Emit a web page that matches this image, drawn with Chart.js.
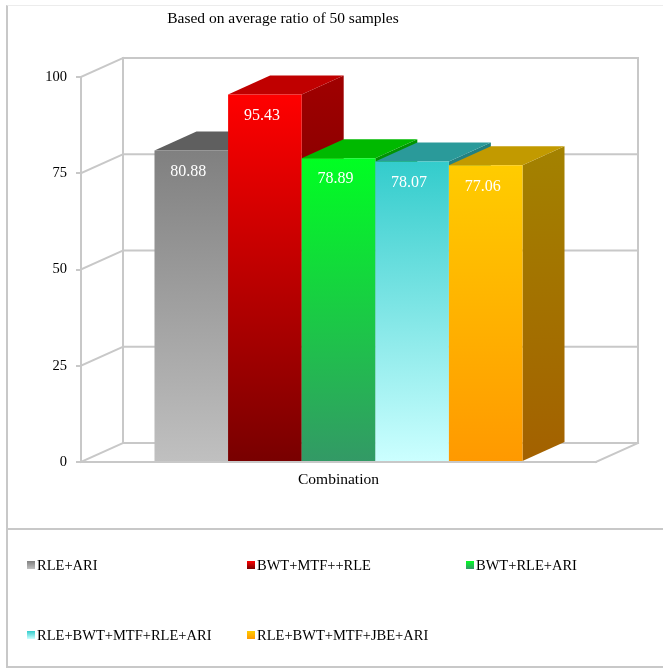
<!DOCTYPE html>
<html>
<head>
<meta charset="utf-8">
<script src="https://cdn.jsdelivr.net/npm/chart.js@4/dist/chart.umd.min.js"></script>
<style>
  html, body { margin: 0; padding: 0; background: #fff; }
  body { width: 663px; height: 671px; position: relative; overflow: hidden; font-family: "Liberation Serif", "Times New Roman", serif; }
  #chart { position: absolute; left: 0; top: 0; }
  #frame { position: absolute; left: 6px; top: 5px; width: 663px; height: 663px;
           border-left: 2px solid #c8c8c8; border-top: 1px solid #ececec; border-bottom: 2px solid #c8c8c8; box-sizing: border-box; pointer-events: none; }
  #divider { position: absolute; left: 8px; top: 528px; width: 655px; height: 2px; background: #c8c8c8; }
  #legend { position: absolute; left: 27px; top: 530px; width: 636px; height: 138px;
            display: grid; grid-template-columns: 220px 219px 180px; grid-auto-rows: 70px; padding-top: 27px; box-sizing: border-box; }
  .item { display: flex; align-items: center; height: 16px; font-size: 14.5px; color: #000; white-space: nowrap; }
  .swatch { width: 8px; height: 8px; margin-right: 2px; flex: none; }
</style>
</head>
<body>
<canvas id="chart" width="663" height="671"></canvas>
<div id="frame"></div>
<div id="divider"></div>
<div id="legend"></div>
<script>
// Chart data
const chartTitle = 'Based on average ratio of 50 samples';
const categories = ['Combination'];
const seriesNames = ['RLE+ARI', 'BWT+MTF++RLE', 'BWT+RLE+ARI', 'RLE+BWT+MTF+RLE+ARI', 'RLE+BWT+MTF+JBE+ARI'];
const seriesValues = [80.88, 95.43, 78.89, 78.07, 77.06];
const yTicks = [0, 25, 50, 75, 100];

// Face colours of each 3D column: front gradient (top, bottom), top face, side gradient (top, bottom)
const frontTop    = ['#808080', '#ff0000', '#00ff22', '#33cccc', '#ffcc00'];
const frontBottom = ['#c0c0c0', '#780000', '#339966', '#ccffff', '#ff9900'];
const topFace     = ['#5f5f5f', '#c00000', '#00b900', '#2a9a9a', '#c29a00'];
const sideTop     = ['#555555', '#a00000', '#009400', '#1f7f7f', '#a38200'];
const sideBottom  = ['#808080', '#500000', '#1d6b45', '#7fb3b3', '#a36100'];

const DEPTH_X = 42, DEPTH_Y = -19;
const GRID_COLOR = '#c8c8c8';
const FONT = '"Liberation Serif", "Times New Roman", serif';

function frontFill(i) {
  return (ctx) => {
    const chart = ctx.chart;
    if (!chart.chartArea || ctx.raw === undefined) return frontTop[i];
    const ys = chart.scales.y;
    const top = ys.getPixelForValue(ctx.raw);
    const bottom = ys.getPixelForValue(0);
    const g = chart.ctx.createLinearGradient(0, top, 0, bottom);
    g.addColorStop(0, frontTop[i]);
    g.addColorStop(1, frontBottom[i]);
    return g;
  };
}

// Draws the back wall, side wall and floor, then each column with its top and side faces
const columns3d = {
  id: 'columns3d',
  beforeDraw(chart) {
    const ctx = chart.ctx;
    ctx.save();
    ctx.fillStyle = '#fff';
    ctx.fillRect(0, 0, chart.width, chart.height);
    ctx.fillStyle = '#000';
    ctx.font = '15.5px ' + FONT;
    ctx.textAlign = 'center';
    ctx.textBaseline = 'middle';
    ctx.fillText(chartTitle, 283, 19);
    ctx.restore();
  },
  beforeDatasetsDraw(chart) {
    const ctx = chart.ctx;
    const area = chart.chartArea;
    const ys = chart.scales.y;
    const L = area.left, R = area.right;
    const y0 = ys.getPixelForValue(0);
    const yMax = ys.getPixelForValue(yTicks[yTicks.length - 1]);

    ctx.save();
    ctx.strokeStyle = GRID_COLOR;
    ctx.lineWidth = 2;
    ctx.lineCap = 'square';
    const line = (x1, y1, x2, y2) => { ctx.beginPath(); ctx.moveTo(x1, y1); ctx.lineTo(x2, y2); ctx.stroke(); };
    // back wall
    yTicks.forEach(v => {
      const y = ys.getPixelForValue(v);
      line(L + DEPTH_X, y + DEPTH_Y, R + DEPTH_X, y + DEPTH_Y);
      line(L, y, L + DEPTH_X, y + DEPTH_Y);
    });
    line(L + DEPTH_X, yMax + DEPTH_Y, L + DEPTH_X, y0 + DEPTH_Y);
    line(R + DEPTH_X, yMax + DEPTH_Y, R + DEPTH_X, y0 + DEPTH_Y);
    // floor
    line(L, y0, R, y0);
    line(R, y0, R + DEPTH_X, y0 + DEPTH_Y);
    ctx.restore();

    chart.data.datasets.forEach((ds, i) => {
      const meta = chart.getDatasetMeta(i);
      if (meta.hidden) return;
      meta.data.forEach((bar) => {
        const p = bar.getProps(['x', 'y', 'base', 'width'], true);
        const bl = p.x - p.width / 2, br = p.x + p.width / 2;
        ctx.save();
        // side face
        const sg = ctx.createLinearGradient(0, p.y + DEPTH_Y, 0, p.base);
        sg.addColorStop(0, sideTop[i]);
        sg.addColorStop(1, sideBottom[i]);
        ctx.fillStyle = sg;
        ctx.beginPath();
        ctx.moveTo(br, p.y);
        ctx.lineTo(br + DEPTH_X, p.y + DEPTH_Y);
        ctx.lineTo(br + DEPTH_X, p.base + DEPTH_Y);
        ctx.lineTo(br, p.base);
        ctx.closePath();
        ctx.fill();
        // top face
        ctx.fillStyle = topFace[i];
        ctx.beginPath();
        ctx.moveTo(bl, p.y);
        ctx.lineTo(bl + DEPTH_X, p.y + DEPTH_Y);
        ctx.lineTo(br + DEPTH_X, p.y + DEPTH_Y);
        ctx.lineTo(br, p.y);
        ctx.closePath();
        ctx.fill();
        ctx.restore();
        // front face
        bar.draw(ctx, area);
        // value label
        ctx.save();
        ctx.fillStyle = '#fff';
        ctx.font = '16px ' + FONT;
        ctx.textAlign = 'center';
        ctx.textBaseline = 'middle';
        ctx.fillText(ds.data[0].toFixed(2), p.x - 3, p.y + 21);
        ctx.restore();
      });
    });
    return false;
  }
};

new Chart(document.getElementById('chart'), {
  type: 'bar',
  data: {
    labels: categories,
    datasets: seriesNames.map((name, i) => ({
      label: name,
      data: [seriesValues[i]],
      backgroundColor: frontFill(i),
      borderWidth: 0,
      categoryPercentage: 0.7146,
      barPercentage: 1
    }))
  },
  options: {
    responsive: false,
    animation: false,
    devicePixelRatio: 1,
    layout: { padding: { left: 0, top: 77, right: 67, bottom: 169 } },
    plugins: { legend: { display: false }, tooltip: { enabled: false }, title: { display: false } },
    scales: {
      x: {
        grid: { display: false, drawTicks: false },
        border: { display: false },
        ticks: { color: '#000', font: { family: FONT, size: 15.5 }, padding: 9 },
        afterFit(scale) { scale.height = 40; }
      },
      y: {
        min: 0,
        max: 100,
        afterBuildTicks(scale) { scale.ticks = yTicks.map(v => ({ value: v })); },
        ticks: { color: '#000', font: { family: FONT, size: 14.5 }, padding: 9 },
        grid: { drawOnChartArea: false, drawTicks: true, tickLength: 5, color: GRID_COLOR, lineWidth: 2 },
        border: { display: true, color: GRID_COLOR, width: 2 },
        afterFit(scale) { scale.width = 81; }
      }
    }
  },
  plugins: [columns3d]
});

// Legend
const legend = document.getElementById('legend');
seriesNames.forEach((name, i) => {
  const item = document.createElement('div');
  item.className = 'item';
  const sw = document.createElement('span');
  sw.className = 'swatch';
  sw.style.background = `linear-gradient(${frontTop[i]}, ${frontBottom[i]})`;
  const label = document.createElement('span');
  label.textContent = name;
  item.appendChild(sw);
  item.appendChild(label);
  legend.appendChild(item);
});
</script>
</body>
</html>
